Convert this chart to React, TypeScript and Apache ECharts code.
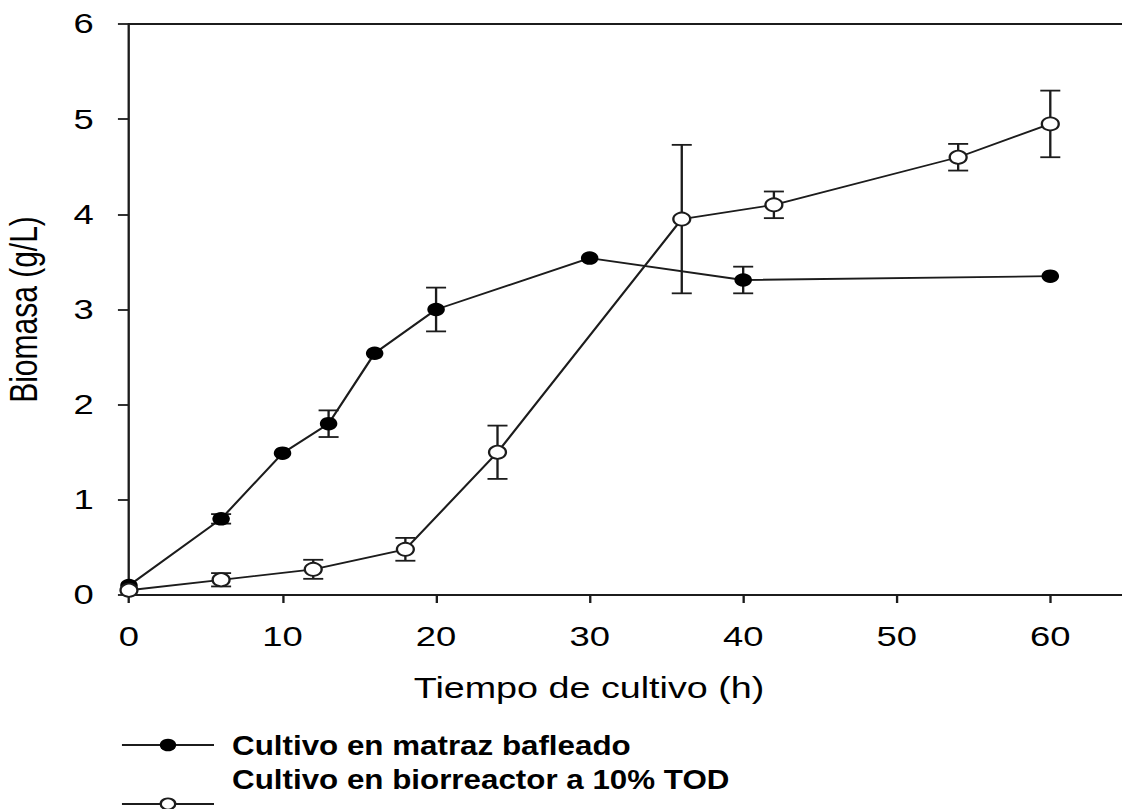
import { useEffect, useRef } from "react";
import * as echarts from "echarts";

// Biomass growth (g/L) versus culture time (h), mean ± standard deviation
const matrazTiempo = [0, 6, 10, 13, 16, 20, 30, 40, 60];
const matrazBiomasa = [0.1, 0.8, 1.49, 1.8, 2.54, 3.0, 3.54, 3.31, 3.35];
const matrazDesv = [0, 0.05, 0, 0.14, 0, 0.23, 0, 0.14, 0];

const reactorTiempo = [0, 6, 12, 18, 24, 36, 42, 54, 60];
const reactorBiomasa = [0.05, 0.16, 0.27, 0.48, 1.5, 3.95, 4.1, 4.6, 4.95];
const reactorDesv = [0, 0.07, 0.1, 0.12, 0.28, 0.78, 0.14, 0.14, 0.35];

const serieNombres = ["Cultivo en matraz bafleado", "Cultivo en biorreactor a 10% TOD"];
const ejeX = { titulo: "Tiempo de cultivo (h)", min: 0, max: 65, paso: 10, ultimo: 60 };
const ejeY = { titulo: "Biomasa (g/L)", min: 0, max: 6, paso: 1 };

// The plot is laid out on a narrower canvas and widened horizontally.
const OUTER_W = 1122;
const OUTER_H = 809;
const INNER_W = 863;
const STRETCH = OUTER_W / INNER_W;

const INK = "#1c1c1c";
const LW = 1.8;
const FONT = "'Liberation Sans', Arial, sans-serif";

function errorRows(t: number[], v: number[], d: number[]) {
  return t
    .map((x, i) => [x, v[i] - d[i], v[i] + d[i], d[i]])
    .filter((r) => r[3] > 0);
}

function errorBarSeries(rows: number[][]) {
  return {
    type: "custom",
    z: 1,
    silent: true,
    data: rows,
    renderItem: (_p: any, api: any) => {
      const x = api.value(0);
      const top = api.coord([x, api.value(2)]);
      const bot = api.coord([x, api.value(1)]);
      const hw = 7.7;
      const style = { stroke: INK, lineWidth: LW, fill: "none" };
      return {
        type: "group",
        children: [
          { type: "line", shape: { x1: top[0], y1: top[1], x2: bot[0], y2: bot[1] }, style },
          { type: "line", shape: { x1: top[0] - hw, y1: top[1], x2: top[0] + hw, y2: top[1] }, style },
          { type: "line", shape: { x1: bot[0] - hw, y1: bot[1], x2: bot[0] + hw, y2: bot[1] }, style },
        ],
      };
    },
  };
}

export default function App() {
  const ref = useRef<HTMLDivElement>(null);

  useEffect(() => {
    if (!ref.current) return;
    const chart = echarts.init(ref.current, null, { renderer: "svg" });

    const gridLeft = 99.2;
    const gridTop = 24;
    const gridWidth = 767.7;
    const gridHeight = 571;

    const axisLine = { show: true, lineStyle: { color: INK, width: LW } };

    const legendX1 = 93.8;
    const legendX2 = 164.6;
    const legendMarkX = 129.2;
    const legendTextX = 178.5;
    const legendY1 = 745;
    const legendY2 = 804;
    const legendText1 = 745;
    const legendText2 = 779;
    // legend captions are widened less than the plot
    const captionScale = 1.12 / STRETCH;

    chart.setOption({
      animation: false,
      backgroundColor: "#ffffff",
      grid: {
        left: gridLeft,
        top: gridTop,
        width: gridWidth,
        height: gridHeight,
        containLabel: false,
        outerBoundsMode: "none",
      },
      xAxis: [
        {
          type: "value",
          min: ejeX.min,
          max: ejeX.max,
          interval: ejeX.paso,
          position: "bottom",
          name: ejeX.titulo,
          nameLocation: "middle",
          nameGap: 79,
          nameTextStyle: { fontFamily: FONT, fontSize: 29, color: "#000", padding: [0, 60, 0, 0] },
          axisLine,
          axisTick: { show: true, inside: false, length: 8, lineStyle: { color: INK, width: LW } },
          axisLabel: {
            fontFamily: FONT,
            fontSize: 28,
            color: "#000",
            margin: 28,
            formatter: (v: number) => (v % ejeX.paso === 0 && v <= ejeX.ultimo ? String(v) : ""),
          },
          splitLine: { show: false },
        },
        {
          type: "value",
          min: ejeX.min,
          max: ejeX.max,
          position: "top",
          axisLine,
          axisTick: { show: false },
          axisLabel: { show: false },
          splitLine: { show: false },
        },
      ],
      yAxis: {
        type: "value",
        min: ejeY.min,
        max: ejeY.max,
        interval: ejeY.paso,
        name: ejeY.titulo,
        nameLocation: "middle",
        nameGap: 66,
        nameTextStyle: { fontFamily: FONT, fontSize: 30, color: "#000" },
        axisLine,
        axisTick: { show: true, inside: false, length: 8.5, lineStyle: { color: INK, width: LW } },
        axisLabel: { fontFamily: FONT, fontSize: 28, color: "#000", margin: 27 },
        splitLine: { show: false },
      },
      series: [
        errorBarSeries(errorRows(matrazTiempo, matrazBiomasa, matrazDesv)),
        errorBarSeries(errorRows(reactorTiempo, reactorBiomasa, reactorDesv)),
        {
          type: "line",
          name: serieNombres[0],
          z: 3,
          data: matrazTiempo.map((t, i) => [t, matrazBiomasa[i]]),
          symbol: "circle",
          symbolSize: 13.5,
          lineStyle: { color: INK, width: LW },
          itemStyle: { color: "#000", borderColor: "#000", borderWidth: 0 },
        },
        {
          type: "line",
          name: serieNombres[1],
          z: 4,
          data: reactorTiempo.map((t, i) => [t, reactorBiomasa[i]]),
          symbol: "circle",
          symbolSize: 13,
          showAllSymbol: true,
          lineStyle: { color: INK, width: LW },
          itemStyle: { color: "#ffffff", borderColor: INK, borderWidth: LW },
        },
      ],
      graphic: [
        { type: "line", shape: { x1: legendX1, y1: legendY1, x2: legendX2, y2: legendY1 }, style: { stroke: INK, lineWidth: LW } },
        { type: "circle", shape: { cx: legendMarkX, cy: legendY1, r: 6.3 }, style: { fill: "#000" } },
        {
          type: "text",
          x: legendTextX,
          y: legendText1,
          scaleX: captionScale,
          style: { text: serieNombres[0], font: `bold 28px ${FONT}`, fill: "#000", verticalAlign: "middle" },
        },
        { type: "line", shape: { x1: legendX1, y1: legendY2, x2: legendX2, y2: legendY2 }, style: { stroke: INK, lineWidth: LW } },
        { type: "circle", shape: { cx: legendMarkX, cy: legendY2, r: 5.6 }, style: { fill: "#fff", stroke: INK, lineWidth: LW } },
        {
          type: "text",
          x: legendTextX,
          y: legendText2,
          scaleX: captionScale,
          style: { text: serieNombres[1], font: `bold 28px ${FONT}`, fill: "#000", verticalAlign: "middle" },
        },
      ],
    });

    return () => chart.dispose();
  }, []);

  return (
    <div
      style={{
        position: "absolute",
        left: 0,
        top: 0,
        width: OUTER_W,
        height: OUTER_H,
        overflow: "hidden",
        background: "#fff",
      }}
    >
      <div
        ref={ref}
        style={{
          width: INNER_W,
          height: OUTER_H,
          transform: `scaleX(${STRETCH})`,
          transformOrigin: "0 0",
        }}
      />
    </div>
  );
}
